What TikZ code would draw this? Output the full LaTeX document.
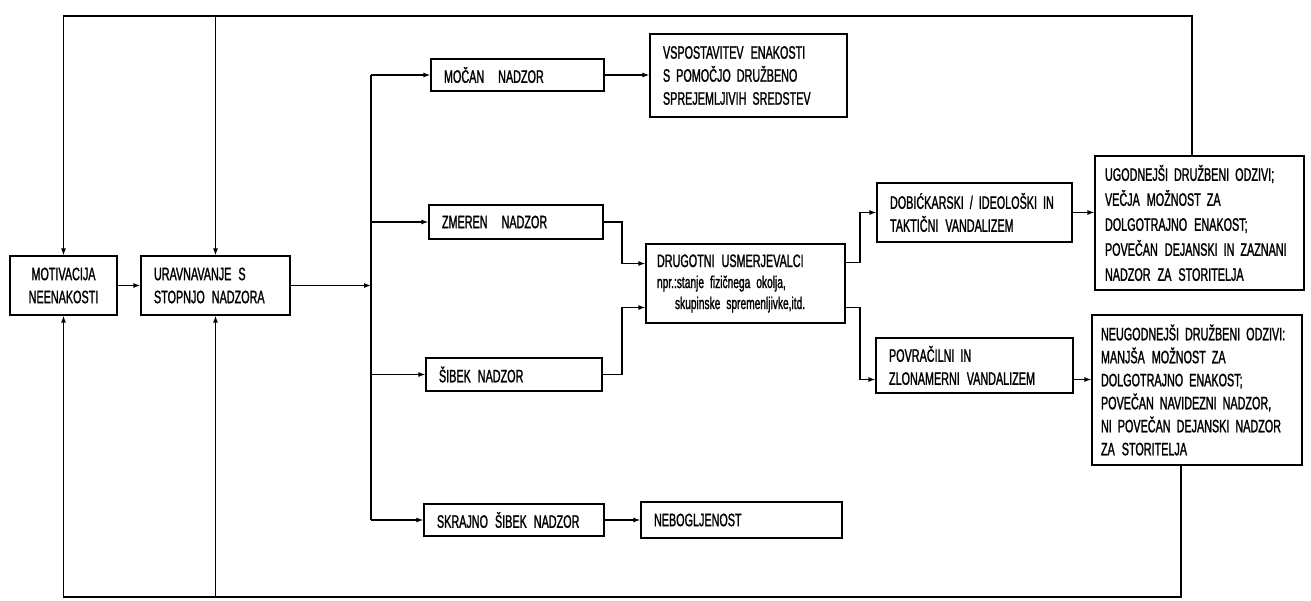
\documentclass[tikz,border=0pt]{standalone}
\usepackage{fontspec}
\newfontfamily\cnd[FakeStretch=0.6,FakeBold=1.3]{Liberation Sans}
\usetikzlibrary{arrows.meta}
\newcommand\wsp{\hspace{7pt}}
\begin{document}
\begin{tikzpicture}[x=1pt,y=-1pt,
  box/.style={draw, line width=1.2pt, rectangle, font=\cnd\fontsize{18}{23}\selectfont,
    align=left, inner xsep=13pt, inner ysep=0pt},
  arr/.style={line width=1.2pt, -{Latex[length=7pt,width=5pt]}},
  ln/.style={line width=1.2pt}]
\useasboundingbox (0,0) rectangle (1311,601);

\node[box, align=center, minimum width=107pt, minimum height=59pt, text width=81pt] (motiv) at (63.5,285.5) {MOTIVACIJA\\NEENAKOSTI};
\node[box, minimum width=149pt, minimum height=59pt, text width=123pt] (urav) at (215.5,285.5) {URAVNAVANJE\wsp S\\STOPNJO\wsp NADZORA};
\node[box, minimum width=173pt, minimum height=32pt, text width=147pt] (mocan) at (517.5,75) {MOČAN\wsp\wsp NADZOR};
\node[box, minimum width=197pt, minimum height=83pt, text width=171pt] (vsp) at (748.5,75.5) {VSPOSTAVITEV\wsp ENAKOSTI\\S POMOČJO DRUŽBENO\\SPREJEMLJIVIH SREDSTEV};
\node[box, minimum width=174pt, minimum height=34pt, text width=148pt] (zmer) at (516,222) {ZMEREN\wsp\wsp NADZOR};
\node[box, minimum width=199pt, minimum height=79pt, text width=177pt, inner xsep=11pt] (drug) at (745.5,283.5) {DRUGOTNI\wsp USMERJEVALCI\\[-2pt]{\fontsize{17}{20}\selectfont npr.:stanje fizičnega okolja,}\\[-2pt]{\fontsize{17}{20}\selectfont\hspace*{18pt}skupinske spremenljivke,itd.}};
\node[box, minimum width=176pt, minimum height=33pt, text width=150pt] (sib) at (514,374.5) {ŠIBEK\wsp NADZOR};
\node[box, minimum width=180pt, minimum height=32pt, text width=154pt] (skraj) at (514,520) {SKRAJNO\wsp ŠIBEK\wsp NADZOR};
\node[box, minimum width=201pt, minimum height=36pt, text width=175pt] (neb) at (741.5,520) {NEBOGLJENOST};
\node[box, minimum width=195pt, minimum height=59pt, text width=169pt] (dob) at (974.5,212.5) {DOBIĆKARSKI / IDEOLOŠKI IN\\TAKTIČNI\wsp VANDALIZEM};
\node[box, minimum width=209pt, minimum height=134pt, text width=189pt, inner xsep=10pt, font=\cnd\fontsize{18}{25}\selectfont] (ugod) at (1199.5,223) {UGODNEJŠI DRUŽBENI ODZIVI;\\VEČJA\wsp MOŽNOST ZA\\DOLGOTRAJNO\wsp ENAKOST;\\POVEČAN\wsp DEJANSKI IN ZAZNANI\\NADZOR\wsp ZA\wsp STORITELJA};
\node[box, minimum width=197pt, minimum height=55pt, text width=171pt] (povr) at (974.5,365.5) {POVRAČILNI IN\\ZLONAMERNI\wsp VANDALIZEM};
\node[box, minimum width=210pt, minimum height=150pt, text width=192pt, inner xsep=9pt] (neug) at (1197,390) {NEUGODNEJŠI DRUŽBENI ODZIVI:\\MANJŠA\wsp MOŽNOST ZA\\DOLGOTRAJNO ENAKOST;\\POVEČAN NAVIDEZNI NADZOR,\\NI POVEČAN DEJANSKI NADZOR\\ZA\wsp STORITELJA};

% feedback loops
\coordinate (tR) at (1192,16);
\coordinate (bR) at (1181,597);
\draw[arr] (ugod.north -| tR) -- (tR) -| (motiv.north);
\draw[arr] (urav.north |- tR) -- (urav.north);
\draw[arr] (neug.south -| bR) -- (bR) -| (motiv.south);
\draw[arr] (urav.south |- bR) -- (urav.south);

% main flow
\draw[arr] (motiv.east) -- (urav.west);
\coordinate (busT) at (371,75);
\coordinate (busB) at (371,520);
\draw[ln] (busT) -- (busB);
\draw[arr] (urav.east) -- (urav.east -| busT);
\draw[arr] (mocan.west -| busT) -- (mocan.west);
\draw[arr] (zmer.west -| busT) -- (zmer.west);
\draw[arr] (sib.west -| busT) -- (sib.west);
\draw[arr] (skraj.west -| busT) -- (skraj.west);

\draw[arr] (mocan.east) -- (vsp.west |- mocan.east);
\draw[arr] (skraj.east) -- (neb.west |- skraj.east);

\coordinate (j1) at (622,0);
\draw[arr] (zmer.east) -- (zmer.east -| j1) |- ([yshift=20pt]drug.west);
\draw[arr] (sib.east) -- (sib.east -| j1) |- ([yshift=-24pt]drug.west);

\coordinate (j2) at (860,0);
\draw[arr] ([yshift=21pt]drug.east) -- ([yshift=21pt]drug.east -| j2) |- (dob.west);
\draw[arr] ([yshift=-24pt]drug.east) -- ([yshift=-24pt]drug.east -| j2) |- ([yshift=-14pt]povr.west);

\draw[arr] (dob.east) -- (ugod.west |- dob.east);
\coordinate (povrout) at ([yshift=-14pt]povr.east);
\draw[arr] (povrout) -- (neug.west |- povrout);
\end{tikzpicture}
\end{document}
